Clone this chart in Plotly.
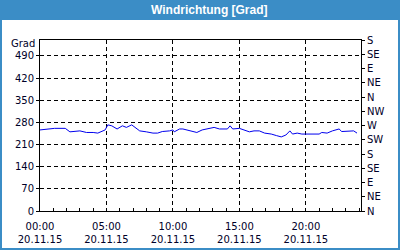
import plotly.graph_objects as go

# ---- data ----
hours = [0.0, 0.75, 1.1, 1.9, 2.25, 3.0, 3.5, 4.0, 4.35, 4.9, 5.1, 5.4, 5.8, 6.2, 6.5, 6.9,
         7.3, 7.5, 8.0, 8.5, 8.85, 9.2, 9.75, 10.0, 10.1, 10.5, 10.75, 11.0, 11.4, 11.8,
         12.2, 12.75, 13.1, 13.5, 13.65, 14.1, 14.3, 14.5, 15.0, 15.4, 15.75, 16.1, 16.5,
         16.9, 17.4, 17.8, 18.15, 18.5, 18.8, 19.0, 19.35, 19.7, 21.0, 21.2, 21.6, 22.0,
         22.5, 22.7, 23.25, 23.6, 23.85]
direction = [256, 259, 261, 261, 250, 253, 248, 248, 246, 256, 272, 269, 259, 269, 264, 272,
             259, 253, 250, 246, 246, 251, 253, 256, 250, 259, 259, 256, 253, 248,
             256, 261, 264, 259, 259, 259, 269, 259, 261, 256, 250, 253, 253,
             246, 243, 238, 234, 240, 253, 243, 246, 243, 243, 248, 246, 253,
             259, 251, 251, 253, 246]

date = "2015-11-20"
def ts(h):
    m = int(round(h * 60))
    return f"{date} {m // 60:02d}:{m % 60:02d}:00"

times = [ts(h) for h in hours]

y_left_ticks = [0, 70, 140, 210, 280, 350, 420, 490]
y_right_ticks = [0, 45, 90, 135, 180, 225, 270, 315, 360, 405, 450, 495, 540]
y_right_labels = ["N", "NE", "E", "SE", "S", "SW", "W", "NW", "N", "NE", "E", "SE", "S"]
x_tick_hours = [0, 5, 10, 15, 20]
x_tick_text = [f"{h:02d}:00<br>20.11.15" for h in x_tick_hours]

title_text = "Windrichtung [Grad]"
unit_text = "Grad"

# ---- style ----
blue = "#3b8dc6"
txt = "#000028"
font = dict(family="DejaVu Sans", size=10, color=txt)

fig = go.Figure()
fig.add_trace(go.Scatter(x=times, y=direction, mode="lines",
                         line=dict(color="#0000ee", width=1), yaxis="y",
                         hoverinfo="skip", showlegend=False))
fig.add_trace(go.Scatter(x=times, y=direction, mode="lines",
                         line=dict(color="rgba(0,0,0,0)", width=0), yaxis="y2",
                         hoverinfo="skip", showlegend=False))

W, H = 400, 250
L, R, T, B = 40, 39, 40, 39
pw, ph = W - L - R, H - T - B

def px(x):
    return (x - L) / pw

def py(y):
    return (H - B - y) / ph

fig.update_layout(
    width=W, height=H,
    margin=dict(l=L, r=R, t=T, b=B, pad=0),
    paper_bgcolor="white", plot_bgcolor="white",
    font=font,
    xaxis=dict(
        type="date", automargin=False,
        range=[f"{date} 00:00:00", "2015-11-21 00:09:00"],
        tickvals=[ts(h) for h in x_tick_hours], ticktext=x_tick_text,
        ticks="inside", ticklen=3, tickcolor="black",
        minor=dict(dtick=3600000, ticks="inside", ticklen=3, tickcolor="black", showgrid=False),
        showgrid=True, gridcolor="black", gridwidth=1, griddash="4px,3px",
        showline=True, linecolor="black", linewidth=1, mirror=True,
        zeroline=False, tickfont=font, ticklabelstandoff=6,
    ),
    yaxis=dict(
        range=[0, 540], tickvals=y_left_ticks, automargin=False,
        ticks="outside", ticklen=3, tickcolor="black",
        showgrid=True, gridcolor="black", gridwidth=1, griddash="4px,3px",
        showline=True, linecolor="black", linewidth=1, mirror=True,
        zeroline=False, tickfont=font,
    ),
    yaxis2=dict(
        range=[0, 540], tickvals=y_right_ticks, ticktext=y_right_labels,
        overlaying="y", side="right", automargin=False,
        ticks="outside", ticklen=3, tickcolor="black",
        showgrid=False, showline=True, linecolor="black", linewidth=1,
        zeroline=False, tickfont=font,
    ),
    shapes=[
        dict(type="rect", xref="paper", yref="paper",
             x0=px(0), x1=px(W), y0=py(20), y1=py(0),
             fillcolor=blue, line=dict(width=0), layer="below"),
        dict(type="rect", xref="paper", yref="paper",
             x0=px(0), x1=px(2), y0=py(H), y1=py(0),
             fillcolor=blue, line=dict(width=0), layer="below"),
        dict(type="rect", xref="paper", yref="paper",
             x0=px(W - 2), x1=px(W), y0=py(H), y1=py(0),
             fillcolor=blue, line=dict(width=0), layer="below"),
        dict(type="rect", xref="paper", yref="paper",
             x0=px(0), x1=px(W), y0=py(H), y1=py(H - 2),
             fillcolor=blue, line=dict(width=0), layer="below"),
    ],
    annotations=[
        dict(text=f"<b>{title_text}</b>", xref="paper", yref="paper",
             x=px(210), y=py(10), xanchor="center", yanchor="middle", showarrow=False,
             font=dict(family="Liberation Sans", size=12, color="white")),
        dict(text=unit_text, xref="paper", yref="paper",
             x=px(37), y=py(43), xanchor="right", yanchor="middle", showarrow=False,
             font=font),
    ],
)

fig.write_html("out.html")
